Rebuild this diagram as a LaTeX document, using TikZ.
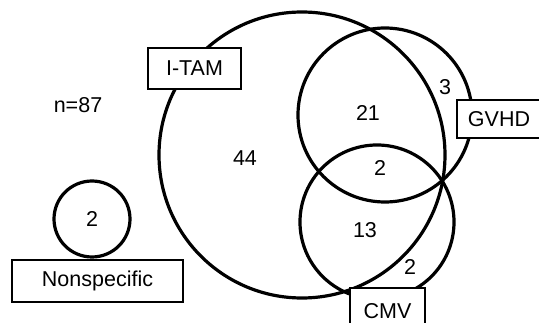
\documentclass[tikz,border=0pt]{standalone}
\usepackage{fontspec}
\setmainfont{Liberation Sans}
\usepackage{tikz}
\tikzstyle{venn} = [circle, draw=black, line width=3.2pt, inner sep=0pt]
\tikzstyle{tag} = [rectangle, draw=black, line width=1.8pt, fill=white, text centered, inner sep=0pt, font=\fontsize{21.5}{26}\selectfont]
\tikzstyle{count} = [font=\fontsize{21.5}{26}\selectfont]

\begin{document}
\begin{tikzpicture}[x=1pt, y=-1pt]
\useasboundingbox (0,0) rectangle (539,323);

\node (itam) [venn, minimum size=286pt] at (302,155) {};
\node (gvhd) [venn, minimum size=174pt] at (385,115) {};
\node (cmv) [venn, minimum size=154pt] at (377,222) {};
\node (nonspec) [venn, minimum size=76pt] at (92,219) {};

\node (itamtag) [tag, minimum width=93pt, minimum height=41pt] at (194.5,68.5) {I-TAM};
\node (gvhdtag) [tag, minimum width=84pt, minimum height=38pt] at (499,119) {GVHD};
\node (cmvtag) [tag, minimum width=75pt, minimum height=46pt] at (387.5,311) {CMV};
\node (nonspectag) [tag, minimum width=171pt, minimum height=42pt] at (97.5,281) {Nonspecific};

\node (total) [count] at (78,105) {n=87};
\node (n44) [count] at (245,158) {44};
\node (n21) [count] at (368,113) {21};
\node (n3) [count] at (445,87) {3};
\node (n2mid) [count] at (380,168) {2};
\node (n13) [count] at (365,230) {13};
\node (n2low) [count] at (410,267) {2};
\node (n2ns) [count] at (92,219) {2};
\end{tikzpicture}
\end{document}
